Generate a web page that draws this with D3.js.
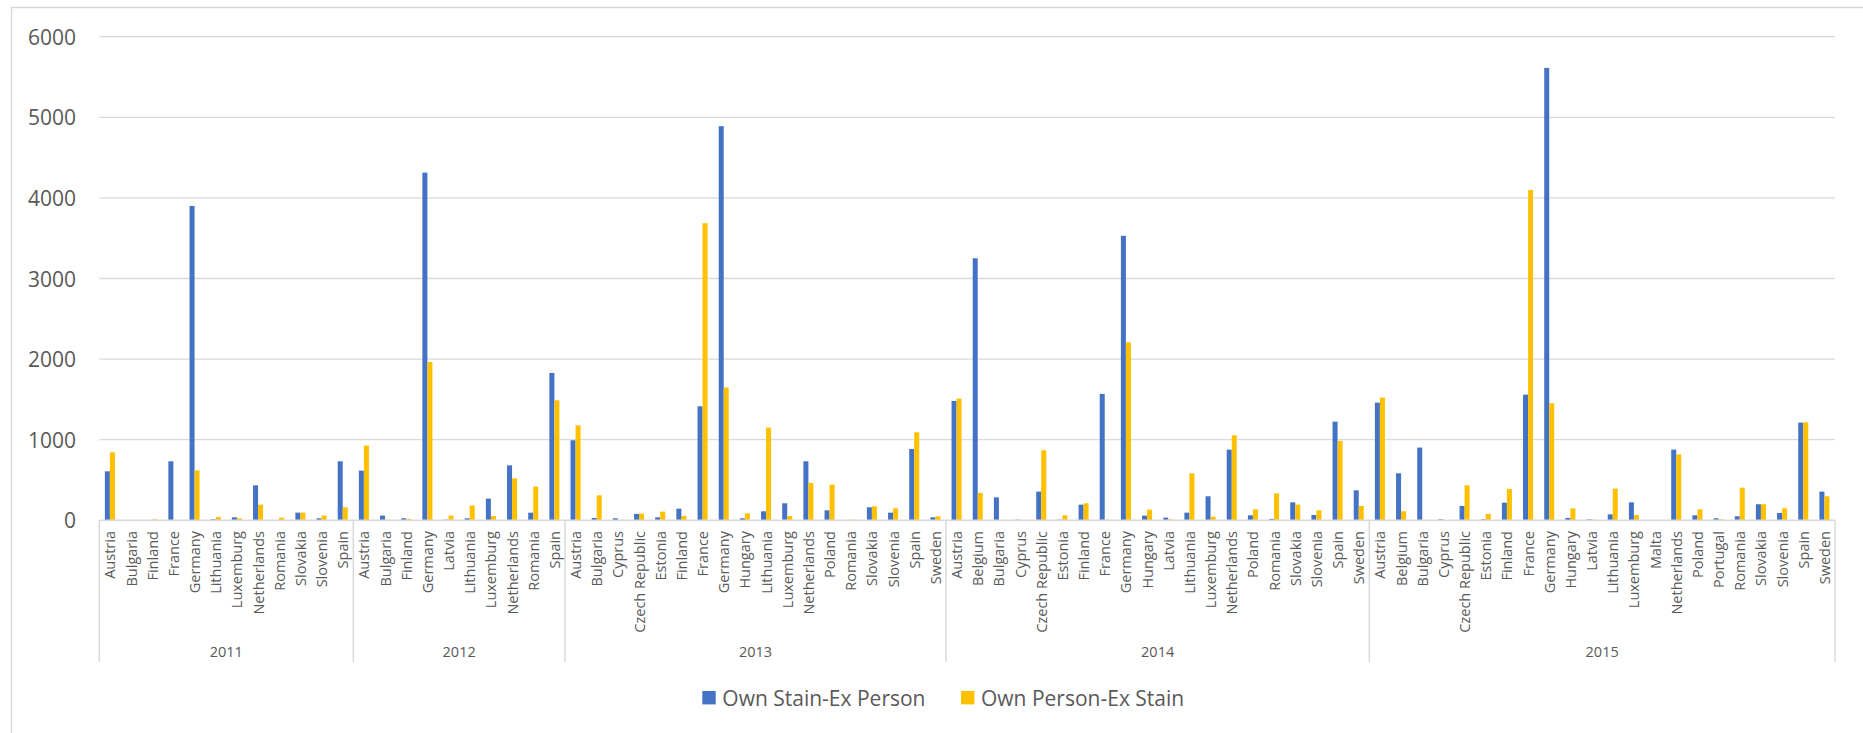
<!DOCTYPE html>
<html>
<head>
<meta charset="utf-8">
<script src="https://cdn.jsdelivr.net/npm/d3@7"></script>
<style>
  html, body { margin: 0; padding: 0; background: #fff; }
  svg { display: block; font-family: "Open Sans", "Noto Sans", sans-serif; }
</style>
</head>
<body>
<svg id="chart" width="1863" height="733"></svg>
<script>
// Series names
const seriesNames = ["Own Stain-Ex Person", "Own Person-Ex Stain"];
const seriesColors = ["#4472C4", "#FFC000"];

// Year groups
const years = ["2011", "2012", "2013", "2014", "2015"];

// 2011
const countries2011 = ["Austria", "Bulgaria", "Finland", "France", "Germany", "Lithuania", "Luxemburg", "Netherlands", "Romania", "Slovakia", "Slovenia", "Spain"];
const stain2011  = [608, 0, 0, 732, 3900, 12, 37, 434, 0, 95, 25, 732];
const person2011 = [844, 0, 12, 0, 620, 41, 25, 194, 33, 95, 58, 161];

// 2012
const countries2012 = ["Austria", "Bulgaria", "Finland", "Germany", "Latvia", "Lithuania", "Luxemburg", "Netherlands", "Romania", "Spain"];
const stain2012  = [616, 58, 25, 4314, 8, 25, 269, 682, 95, 1828];
const person2012 = [927, 8, 17, 1964, 58, 182, 54, 521, 418, 1489];

// 2013
const countries2013 = ["Austria", "Bulgaria", "Cyprus", "Czech Republic", "Estonia", "Finland", "France", "Germany", "Hungary", "Lithuania", "Luxemburg", "Netherlands", "Poland", "Romania", "Slovakia", "Slovenia", "Spain", "Sweden"];
const stain2013  = [993, 29, 25, 79, 37, 145, 1415, 4890, 25, 112, 211, 732, 124, 0, 161, 95, 885, 37];
const person2013 = [1179, 310, 0, 83, 108, 54, 3686, 1647, 87, 1150, 54, 463, 443, 8, 174, 149, 1092, 50];

// 2014
const countries2014 = ["Austria", "Belgium", "Bulgaria", "Cyprus", "Czech Republic", "Estonia", "Finland", "France", "Germany", "Hungary", "Latvia", "Lithuania", "Luxemburg", "Netherlands", "Poland", "Romania", "Slovakia", "Slovenia", "Spain", "Sweden"];
const stain2014  = [1481, 3251, 285, 8, 356, 8, 194, 1568, 3530, 58, 33, 95, 298, 877, 62, 17, 223, 66, 1224, 372];
const person2014 = [1510, 339, 0, 0, 869, 62, 211, 8, 2209, 132, 12, 583, 45, 1055, 137, 335, 194, 124, 985, 178];

// 2015
const countries2015 = ["Austria", "Belgium", "Bulgaria", "Cyprus", "Czech Republic", "Estonia", "Finland", "France", "Germany", "Hungary", "Latvia", "Lithuania", "Luxemburg", "Malta", "Netherlands", "Poland", "Portugal", "Romania", "Slovakia", "Slovenia", "Spain", "Sweden"];
const stain2015  = [1460, 583, 902, 12, 178, 12, 219, 1559, 5613, 29, 12, 74, 223, 0, 877, 62, 25, 50, 199, 91, 1212, 356];
const person2015 = [1522, 112, 0, 0, 434, 79, 389, 4099, 1452, 149, 8, 393, 66, 0, 819, 137, 12, 405, 199, 149, 1216, 298];

// Y axis ticks
const yTicks = [0, 1000, 2000, 3000, 4000, 5000, 6000];

// Build flat row table
const groups = [
  [countries2011, stain2011, person2011],
  [countries2012, stain2012, person2012],
  [countries2013, stain2013, person2013],
  [countries2014, stain2014, person2014],
  [countries2015, stain2015, person2015]
];
const rows = [];
groups.forEach((g, gi) => {
  g[0].forEach((c, i) => {
    rows.push({ key: years[gi] + "|" + c, year: years[gi], country: c, values: [g[1][i], g[2][i]] });
  });
});

const svg = d3.select("#chart");
const textColor = "#595959";
const lineColor = "#d9d9d9";

// Chart-area border (left/top edges visible)
svg.append("rect")
  .attr("x", 11.5).attr("y", 7.5)
  .attr("width", 1900).attr("height", 800)
  .attr("fill", "none").attr("stroke", lineColor).attr("stroke-width", 1.5);

const plot = { left: 99.3, right: 1835, top: 36.7, bottom: 520.3 };

const x = d3.scaleBand()
  .domain(rows.map(d => d.key))
  .range([plot.left, plot.right])
  .padding(0);

const y = d3.scaleLinear()
  .domain([0, 6000])
  .range([plot.bottom, plot.top]);

// Grid lines
svg.append("g").selectAll("line")
  .data(yTicks.filter(t => t > 0))
  .join("line")
  .attr("x1", plot.left).attr("x2", plot.right)
  .attr("y1", d => y(d)).attr("y2", d => y(d))
  .attr("stroke", lineColor).attr("stroke-width", 1.3);

// Y tick labels
svg.append("g").selectAll("text")
  .data(yTicks)
  .join("text")
  .attr("x", 76)
  .attr("y", d => y(d))
  .attr("text-anchor", "end")
  .attr("dominant-baseline", "central")
  .attr("fill", textColor)
  .attr("font-size", 21)
  .text(d => d);

// Bars
const groupW = x.bandwidth() / 2.11;
const xs = d3.scaleBand().domain([0, 1]).range([0, groupW]).padding(0);

const barG = svg.append("g");
rows.forEach(r => {
  const x0 = x(r.key) + (x.bandwidth() - groupW) / 2;
  barG.selectAll(null)
    .data(r.values)
    .join("rect")
    .attr("x", (d, i) => x0 + xs(i))
    .attr("width", xs.bandwidth())
    .attr("y", d => y(d))
    .attr("height", d => y(0) - y(d))
    .attr("fill", (d, i) => seriesColors[i]);
});

// X axis baseline
svg.append("line")
  .attr("x1", plot.left).attr("x2", plot.right)
  .attr("y1", plot.bottom).attr("y2", plot.bottom)
  .attr("stroke", lineColor).attr("stroke-width", 1.5);

// Country labels
svg.append("g").selectAll("text")
  .data(rows)
  .join("text")
  .attr("transform", d => `translate(${x(d.key) + x.bandwidth() / 2},531) rotate(-90)`)
  .attr("text-anchor", "end")
  .attr("dominant-baseline", "central")
  .attr("fill", textColor)
  .attr("font-size", 14.5)
  .text(d => d.country);

// Year group separators and labels
const yearSpans = years.map(yr => {
  const keys = rows.filter(r => r.year === yr).map(r => r.key);
  return { year: yr, x0: x(keys[0]), x1: x(keys[keys.length - 1]) + x.bandwidth() };
});
const bounds = [yearSpans[0].x0].concat(yearSpans.map(s => s.x1));
svg.append("g").selectAll("line")
  .data(bounds)
  .join("line")
  .attr("x1", d => d).attr("x2", d => d)
  .attr("y1", plot.bottom).attr("y2", 662)
  .attr("stroke", lineColor).attr("stroke-width", 1.5);

svg.append("g").selectAll("text")
  .data(yearSpans)
  .join("text")
  .attr("x", d => (d.x0 + d.x1) / 2)
  .attr("y", 651)
  .attr("text-anchor", "middle")
  .attr("dominant-baseline", "central")
  .attr("fill", textColor)
  .attr("font-size", 14.5)
  .text(d => d.year);

// Legend
const legendX = [702.3, 961];
const legend = svg.append("g").selectAll("g")
  .data(seriesNames)
  .join("g")
  .attr("transform", (d, i) => `translate(${legendX[i]},691)`);
legend.append("rect")
  .attr("width", 13.4).attr("height", 13.4)
  .attr("fill", (d, i) => seriesColors[i]);
legend.append("text")
  .attr("x", 20)
  .attr("y", 6.7)
  .attr("dominant-baseline", "central")
  .attr("fill", textColor)
  .attr("font-size", 21)
  .text(d => d);
</script>
</body>
</html>
